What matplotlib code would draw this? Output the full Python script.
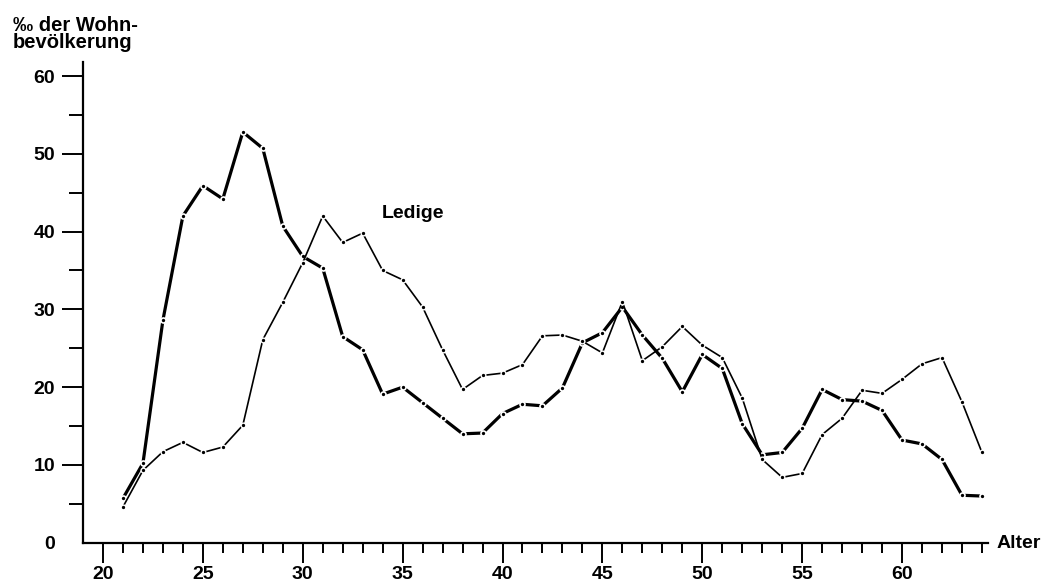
import numpy as np
import matplotlib.pyplot as plt
from matplotlib.ticker import FixedLocator

plt.rcParams['font.family'] = ['Liberation Sans', 'DejaVu Sans']
plt.rcParams['font.weight'] = 'bold'
plt.rcParams['font.size'] = 14

# Alter in Jahren
alter = np.arange(21, 65)

# dicke Kurve
dick = [5.7, 10.2, 28.6, 42.0, 45.9, 44.2, 52.8, 50.7, 40.7, 36.8,
        35.3, 26.5, 24.8, 19.1, 20.0, 18.0, 16.0, 14.0, 14.1, 16.6,
        17.8, 17.6, 19.9, 25.7, 27.0, 30.3, 26.7, 23.7, 19.4, 24.2,
        22.4, 15.3, 11.3, 11.6, 14.7, 19.7, 18.4, 18.2, 17.0, 13.2,
        12.7, 10.7, 6.1, 6.0]

# duenne Kurve (Ledige)
ledige = [4.6, 9.3, 11.7, 12.9, 11.6, 12.3, 15.1, 26.1, 30.9, 36.0,
          42.0, 38.6, 39.8, 35.0, 33.8, 30.3, 24.8, 19.7, 21.5, 21.8,
          22.9, 26.6, 26.7, 25.9, 24.4, 31.0, 23.4, 25.2, 27.8, 25.4,
          23.8, 18.6, 10.7, 8.4, 8.9, 13.9, 16.0, 19.6, 19.2, 21.0,
          23.0, 23.8, 18.1, 11.6]

fig = plt.figure(figsize=(10.48, 5.84), dpi=100)
ax = fig.add_axes([0.0792, 0.0707, 0.9427 - 0.0792, 0.8938 - 0.0707])

# Linien mit Punkten, weisser Rand ergibt die kleinen Luecken
ax.plot(alter, dick, color='black', lw=2.3, marker='o', ms=3.6,
        mfc='black', mec='white', mew=1.2, solid_capstyle='butt')
ax.plot(alter, ledige, color='black', lw=1.2, marker='o', ms=3.4,
        mfc='black', mec='white', mew=1.0, solid_capstyle='butt')

ax.set_xlim(19, 64.3)
ax.set_ylim(0, 61.8)

for s in ['top', 'right']:
    ax.spines[s].set_visible(False)
for s in ['left', 'bottom']:
    ax.spines[s].set_linewidth(1.6)

ax.set_xticks([20, 25, 30, 35, 40, 45, 50, 55, 60])
ax.xaxis.set_minor_locator(FixedLocator([a for a in range(21, 65) if a % 5 != 0]))
ax.set_yticks([0, 10, 20, 30, 40, 50, 60])
ax.yaxis.set_minor_locator(FixedLocator([5, 15, 25, 35, 45, 55]))

ax.tick_params(axis='x', which='major', direction='out', length=14.5, width=1.4, pad=2)
ax.tick_params(axis='x', which='minor', direction='out', length=7.2, width=1.4)
ax.tick_params(axis='y', which='major', direction='out', length=15, width=1.4, pad=5)
ax.tick_params(axis='y', which='minor', direction='out', length=10, width=1.4)
ax.yaxis.get_major_ticks()[0].tick1line.set_visible(False)

ax.text(33.93, 41.8, 'Ledige', va='baseline', ha='left')

fig.text(13 / 1048, 1 - 16 / 584, '‰ der Wohn-\nbevölkerung', va='top', ha='left',
         linespacing=0.85, fontsize=14.5)
fig.text(997 / 1048, 1 - 548 / 584, 'Alter', va='baseline', ha='left')

fig.savefig('out.png', dpi=100)
